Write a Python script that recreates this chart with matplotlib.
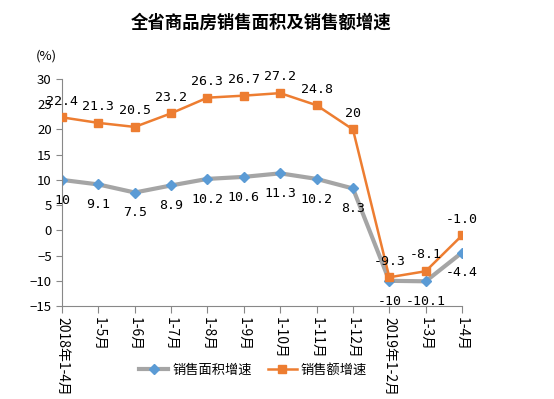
import matplotlib
matplotlib.use("Agg")
import matplotlib.pyplot as plt

plt.rcParams['font.family'] = ['Noto Sans CJK SC', 'DejaVu Sans']

categories = ['2018年1-4月', '1-5月', '1-6月', '1-7月', '1-8月', '1-9月',
              '1-10月', '1-11月', '1-12月', '2019年1-2月', '1-3月', '1-4月']
area_growth = [10, 9.1, 7.5, 8.9, 10.2, 10.6, 11.3, 10.2, 8.3, -10, -10.1, -4.4]
amount_growth = [22.4, 21.3, 20.5, 23.2, 26.3, 26.7, 27.2, 24.8, 20, -9.3, -8.1, -1.0]
area_text = ['10', '9.1', '7.5', '8.9', '10.2', '10.6', '11.3', '10.2', '8.3', '-10', '-10.1', '-4.4']
amount_text = ['22.4', '21.3', '20.5', '23.2', '26.3', '26.7', '27.2', '24.8', '20', '-9.3', '-8.1', '-1.0']

fig = plt.figure(figsize=(5.54, 3.99), dpi=100)
ax = fig.add_axes([0.112, 0.233, 0.722, 0.569])

x = range(len(categories))
ax.plot(x, area_growth, color='#A5A5A5', lw=3, marker='D', ms=5,
        mfc='#5B9BD5', mec='#5B9BD5', label='销售面积增速', zorder=2)
ax.plot(x, amount_growth, color='#ED7D31', lw=1.8, marker='s', ms=6,
        mfc='#ED7D31', mec='#ED7D31', label='销售额增速', zorder=3)

for i, t in enumerate(area_text):
    ax.annotate(t, (i, area_growth[i]), xytext=(0, -10), textcoords='offset points',
                ha='center', va='top', fontsize=9.5, family='DejaVu Sans Mono')
for i, t in enumerate(amount_text):
    ax.annotate(t, (i, amount_growth[i]), xytext=(0, 7), textcoords='offset points',
                ha='center', va='bottom', fontsize=9.5, family='DejaVu Sans Mono')

ax.set_xlim(0, len(categories) - 1)
ax.set_ylim(-15, 30)
ax.set_yticks(range(-15, 31, 5))
ax.set_xticks(list(x))
ax.set_xticklabels(categories, rotation=270, fontsize=10)
ax.tick_params(axis='y', labelsize=9.5, length=4, color='#888888')
ax.tick_params(axis='x', length=5, color='#888888', pad=3)
for s in ['top', 'right']:
    ax.spines[s].set_visible(False)
for s in ['left', 'bottom']:
    ax.spines[s].set_color('#888888')

fig.text(0.471, 0.942, '全省商品房销售面积及销售额增速', ha='center', va='center',
         fontsize=12.5, fontweight='bold')
fig.text(0.065, 0.86, '(%)', ha='left', va='center', fontsize=9.5)

ax.legend(loc='center', bbox_to_anchor=(0.457, 0.072), bbox_transform=fig.transFigure,
          ncol=2, frameon=False, fontsize=9.5, handlelength=2.2, handletextpad=0.3,
          columnspacing=1.2)

fig.savefig('out.png', dpi=100)
